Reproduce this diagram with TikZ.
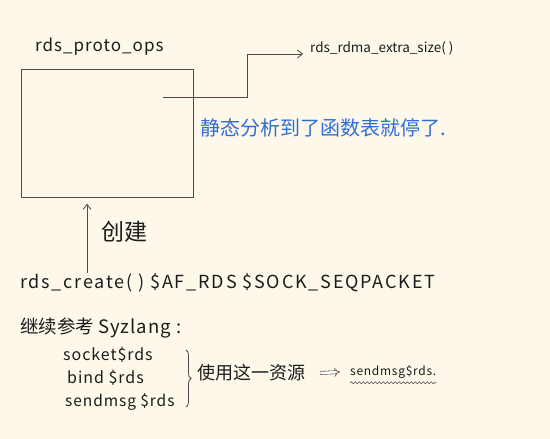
\documentclass[tikz,border=0pt]{standalone}
\usepackage{fontspec}
\setmainfont{Noto Sans CJK SC}
\newfontfamily\hand[LetterSpace=6]{Noto Sans CJK SC}
\newfontfamily\handwide[LetterSpace=10]{Noto Sans CJK SC}
\usetikzlibrary{arrows.meta,decorations.pathreplacing,decorations.pathmorphing}
\definecolor{paper}{HTML}{FDF8EA}
\definecolor{ink}{HTML}{1C1C1C}
\definecolor{pen}{HTML}{2E6FD2}
\definecolor{rule}{HTML}{4A4A4A}
\begin{document}
\begin{tikzpicture}[x=1pt,y=-1pt,
  txt/.style={anchor=west,inner sep=0pt,text=ink,font=\hand\fontsize{17}{19}\selectfont},
  small/.style={txt,font=\hand\fontsize{15.5}{17}\selectfont},
  cjk/.style={anchor=west,inner sep=0pt,text=ink,font=\fontsize{18}{20}\selectfont},
  note/.style={anchor=west,inner sep=0pt,text=pen,font=\fontsize{20}{22}\selectfont},
  conn/.style={draw=rule,line width=0.8pt},
  arr/.style={conn,-{Straight Barb[length=5pt,width=8pt]}}]
\fill[paper] (0,0) rectangle (550,439);
\useasboundingbox (0,0) rectangle (550,439);
\node[txt] (ops) at (35,47) {rds\_proto\_ops};
\node[draw=rule,line width=0.8pt,minimum width=172pt,minimum height=128pt,anchor=north west,inner sep=0pt] (box) at (21,69) {};
\coordinate (src) at (163,97);
\node[txt,font=\rmfamily\fontsize{13.5}{15}\selectfont] (extra) at (310,48) {rds\_rdma\_extra\_size( )};
\draw[arr] (src) -- (247,97) |- ([yshift=-6pt,xshift=-7pt]extra.west);
\node[note] (stop) at (200,128) {静态分析到了函数表就停了.};
\node[txt,font=\handwide\fontsize{18}{20}\selectfont] (create) at (20,283) {rds\_create( ) \$AF\_RDS \$SOCK\_SEQPACKET};
\coordinate (a1) at (87,273);
\draw[arr,shorten >=6pt] (a1) -- (a1 |- box.south);
\node[cjk,font=\fontsize{23}{25}\selectfont] (mk) at (101,232) {创建};
\node[cjk,font=\fontsize{18.5}{20}\selectfont] (syz) at (20,328) {继续参考 {\hand Syzlang :}};
\node[small,font=\hand\fontsize{16}{18}\selectfont] (s1) at (63,355) {socket\$rds};
\node[small,font=\hand\fontsize{16}{18}\selectfont] (s2) at (67,378) {bind \$rds};
\node[small] (s3) at (65,402) {sendmsg \$rds};
\draw[rule,line width=0.8pt,decorate,decoration={brace,amplitude=5pt}] (186,350) -- (186,407);
\node[cjk] (use) at (197,373) {使用这一资源};
\node[small,font=\hand\fontsize{12}{14}\selectfont] (send) at (350,372) {sendmsg\$rds.};
\draw[rule,line width=0.6pt,double distance=2.5pt,-{Implies}] ([xshift=15pt]use.east) -- ([xshift=-10pt]send.west);
\draw[rule,line width=0.6pt,decorate,decoration={snake,amplitude=1pt,segment length=4pt}] ([yshift=-4pt]send.south west) -- ([yshift=-4pt]send.south east);
\end{tikzpicture}
\end{document}
